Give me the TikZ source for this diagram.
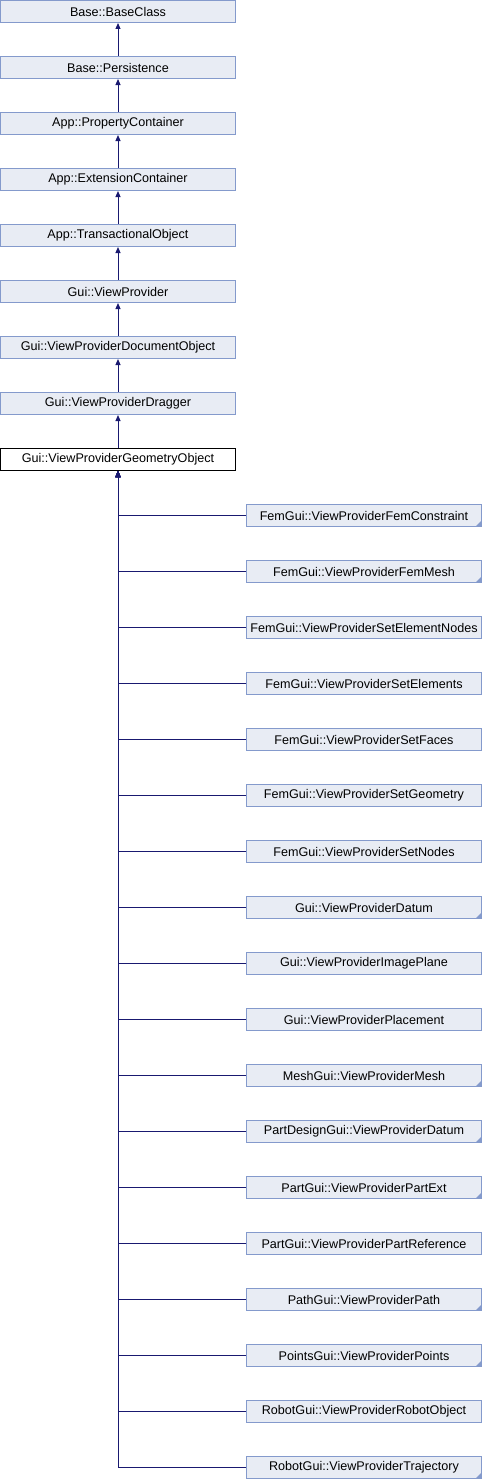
\documentclass[tikz,border=0pt]{standalone}
\usepackage{fontspec}
\setmainfont{Liberation Sans}
\usetikzlibrary{arrows.meta}

\definecolor{boxfill}{RGB}{232,236,244}
\definecolor{boxline}{RGB}{132,154,204}
\definecolor{edgeblue}{RGB}{25,25,112}

\begin{document}
\begin{tikzpicture}[x=1pt,y=-1pt,
    cls/.style={draw=boxline,fill=boxfill,line width=1pt,minimum width=235pt,minimum height=22pt,
        inner sep=0pt,font=\fontsize{12.6}{14}\selectfont},
    cur/.style={cls,draw=black,fill=white},
    cut/.style={cls,path picture={\fill[boxline] (path picture bounding box.south east)
        -- ++(-6pt,0) -- ++(6pt,6pt) -- cycle;}}]
            \useasboundingbox (0,0) rectangle (482,1480);

            \draw (118,11.5) node[cls](baseclass){Base::BaseClass};
            \draw (118,67.5) node[cls](persistence){Base::Persistence};
            \draw (118,123.5) node[cls](propcont){App::PropertyContainer};
            \draw (118,179.5) node[cls](extcont){App::ExtensionContainer};
            \draw (118,235.5) node[cls](transobj){App::TransactionalObject};
            \draw (118,291.5) node[cls](vp){Gui::ViewProvider};
            \draw (118,347.5) node[cls](vpdoc){Gui::ViewProviderDocumentObject};
            \draw (118,403.5) node[cls](vpdrag){Gui::ViewProviderDragger};
            \draw (118,459.5) node[cur](vpgeo){Gui::ViewProviderGeometryObject};

            \draw (364,515.5) node[cut](femcons){FemGui::ViewProviderFemConstraint};
            \draw (364,571.5) node[cut](femmesh){FemGui::ViewProviderFemMesh};
            \draw (364,627.5) node[cls](setelnodes){FemGui::ViewProviderSetElementNodes};
            \draw (364,683.5) node[cls](setelems){FemGui::ViewProviderSetElements};
            \draw (364,739.5) node[cls](setfaces){FemGui::ViewProviderSetFaces};
            \draw (364,795.5) node[cls](setgeom){FemGui::ViewProviderSetGeometry};
            \draw (364,851.5) node[cls](setnodes){FemGui::ViewProviderSetNodes};
            \draw (364,907.5) node[cut](datum){Gui::ViewProviderDatum};
            \draw (364,963.5) node[cls](imgplane){Gui::ViewProviderImagePlane};
            \draw (364,1019.5) node[cls](placement){Gui::ViewProviderPlacement};
            \draw (364,1075.5) node[cut](mesh){MeshGui::ViewProviderMesh};
            \draw (364,1131.5) node[cut](pddatum){PartDesignGui::ViewProviderDatum};
            \draw (364,1187.5) node[cut](partext){PartGui::ViewProviderPartExt};
            \draw (364,1243.5) node[cls](partref){PartGui::ViewProviderPartReference};
            \draw (364,1299.5) node[cut](path){PathGui::ViewProviderPath};
            \draw (364,1355.5) node[cut](points){PointsGui::ViewProviderPoints};
            \draw (364,1411.5) node[cls](robobj){RobotGui::ViewProviderRobotObject};
            \draw (364,1467.5) node[cut](traj){RobotGui::ViewProviderTrajectory};

            \begin{scope}[edgeblue, line width=1pt, -{Triangle[length=6pt,width=5pt]}]
                \path (persistence) edge (baseclass);
                \path (propcont) edge (persistence);
                \path (extcont) edge (propcont);
                \path (transobj) edge (extcont);
                \path (vp) edge (transobj);
                \path (vpdoc) edge (vp);
                \path (vpdrag) edge (vpdoc);
                \path (vpgeo) edge (vpdrag);
            \end{scope}

            \begin{scope}[edgeblue, line width=1pt, -{Triangle[length=6pt,width=5pt]},
                every edge/.style={draw, to path={-| (\tikztotarget)}}]
                \path (femcons.west) edge (vpgeo.south);
                \path (femmesh.west) edge (vpgeo.south);
                \path (setelnodes.west) edge (vpgeo.south);
                \path (setelems.west) edge (vpgeo.south);
                \path (setfaces.west) edge (vpgeo.south);
                \path (setgeom.west) edge (vpgeo.south);
                \path (setnodes.west) edge (vpgeo.south);
                \path (datum.west) edge (vpgeo.south);
                \path (imgplane.west) edge (vpgeo.south);
                \path (placement.west) edge (vpgeo.south);
                \path (mesh.west) edge (vpgeo.south);
                \path (pddatum.west) edge (vpgeo.south);
                \path (partext.west) edge (vpgeo.south);
                \path (partref.west) edge (vpgeo.south);
                \path (path.west) edge (vpgeo.south);
                \path (points.west) edge (vpgeo.south);
                \path (robobj.west) edge (vpgeo.south);
                \path (traj.west) edge (vpgeo.south);
            \end{scope}
        \end{tikzpicture}
\end{document}
